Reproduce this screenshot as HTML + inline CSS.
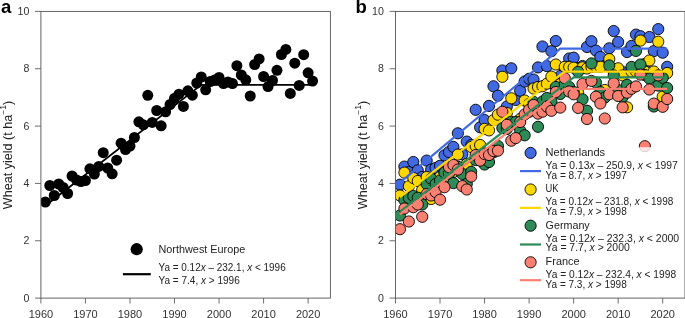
<!DOCTYPE html><html><head><meta charset="utf-8"><style>html,body{margin:0;padding:0;background:#fff;}svg{display:block;will-change:transform}text{font-family:"Liberation Sans", sans-serif}</style></head><body>
<svg width="685" height="318" viewBox="0 0 685 318">
<rect width="685" height="318" fill="#fff"/>
<line x1="35.00" y1="298.10" x2="40.90" y2="298.10" stroke="#5e5e5e" stroke-width="0.9"/>
<line x1="35.00" y1="240.76" x2="40.90" y2="240.76" stroke="#5e5e5e" stroke-width="0.9"/>
<line x1="35.00" y1="183.42" x2="40.90" y2="183.42" stroke="#5e5e5e" stroke-width="0.9"/>
<line x1="35.00" y1="126.08" x2="40.90" y2="126.08" stroke="#5e5e5e" stroke-width="0.9"/>
<line x1="35.00" y1="68.74" x2="40.90" y2="68.74" stroke="#5e5e5e" stroke-width="0.9"/>
<line x1="35.00" y1="11.40" x2="40.90" y2="11.40" stroke="#5e5e5e" stroke-width="0.9"/>
<line x1="40.90" y1="298.10" x2="40.90" y2="303.50" stroke="#5e5e5e" stroke-width="0.9"/>
<line x1="85.44" y1="298.10" x2="85.44" y2="303.50" stroke="#5e5e5e" stroke-width="0.9"/>
<line x1="129.98" y1="298.10" x2="129.98" y2="303.50" stroke="#5e5e5e" stroke-width="0.9"/>
<line x1="174.52" y1="298.10" x2="174.52" y2="303.50" stroke="#5e5e5e" stroke-width="0.9"/>
<line x1="219.05" y1="298.10" x2="219.05" y2="303.50" stroke="#5e5e5e" stroke-width="0.9"/>
<line x1="263.59" y1="298.10" x2="263.59" y2="303.50" stroke="#5e5e5e" stroke-width="0.9"/>
<line x1="308.13" y1="298.10" x2="308.13" y2="303.50" stroke="#5e5e5e" stroke-width="0.9"/>
<text x="29.30" y="301.80" font-size="10.6" text-anchor="end" fill="#333">0</text>
<text x="29.30" y="244.46" font-size="10.6" text-anchor="end" fill="#333">2</text>
<text x="29.30" y="187.12" font-size="10.6" text-anchor="end" fill="#333">4</text>
<text x="29.30" y="129.78" font-size="10.6" text-anchor="end" fill="#333">6</text>
<text x="29.30" y="72.44" font-size="10.6" text-anchor="end" fill="#333">8</text>
<text x="29.30" y="15.10" font-size="10.6" text-anchor="end" fill="#333">10</text>
<text x="40.90" y="318.3" font-size="11" text-anchor="middle" fill="#333">1960</text>
<text x="85.44" y="318.3" font-size="11" text-anchor="middle" fill="#333">1970</text>
<text x="129.98" y="318.3" font-size="11" text-anchor="middle" fill="#333">1980</text>
<text x="174.52" y="318.3" font-size="11" text-anchor="middle" fill="#333">1990</text>
<text x="219.05" y="318.3" font-size="11" text-anchor="middle" fill="#333">2000</text>
<text x="263.59" y="318.3" font-size="11" text-anchor="middle" fill="#333">2010</text>
<text x="308.13" y="318.3" font-size="11" text-anchor="middle" fill="#333">2020</text>
<text id="yla" transform="translate(12.20,209.2) rotate(-90)" font-size="12.4" fill="#222" textLength="108.37" lengthAdjust="spacingAndGlyphs">Wheat yield (t ha<tspan dy="-6.3" font-size="8.4">−1</tspan><tspan dy="6.3">)</tspan></text>
<text x="1" y="13" font-size="18.5" font-weight="bold" fill="#000">a</text>
<defs><clipPath id="ca"><rect x="40.9" y="11.4" width="289.6" height="286.7"/></clipPath></defs><g clip-path="url(#ca)">
<circle cx="45.35" cy="202.00" r="5.5" fill="#000"/>
<circle cx="49.81" cy="185.50" r="5.5" fill="#000"/>
<circle cx="54.26" cy="195.50" r="5.5" fill="#000"/>
<circle cx="58.72" cy="184.00" r="5.5" fill="#000"/>
<circle cx="63.17" cy="187.50" r="5.5" fill="#000"/>
<circle cx="67.62" cy="193.50" r="5.5" fill="#000"/>
<circle cx="72.08" cy="176.00" r="5.5" fill="#000"/>
<circle cx="76.53" cy="180.00" r="5.5" fill="#000"/>
<circle cx="80.98" cy="181.50" r="5.5" fill="#000"/>
<circle cx="85.44" cy="180.50" r="5.5" fill="#000"/>
<circle cx="89.89" cy="168.80" r="5.5" fill="#000"/>
<circle cx="94.35" cy="174.00" r="5.5" fill="#000"/>
<circle cx="98.80" cy="166.40" r="5.5" fill="#000"/>
<circle cx="103.25" cy="152.70" r="5.5" fill="#000"/>
<circle cx="107.71" cy="168.00" r="5.5" fill="#000"/>
<circle cx="112.16" cy="173.80" r="5.5" fill="#000"/>
<circle cx="116.62" cy="160.20" r="5.5" fill="#000"/>
<circle cx="121.07" cy="143.20" r="5.5" fill="#000"/>
<circle cx="125.52" cy="149.50" r="5.5" fill="#000"/>
<circle cx="129.98" cy="146.00" r="5.5" fill="#000"/>
<circle cx="134.43" cy="137.50" r="5.5" fill="#000"/>
<circle cx="138.88" cy="121.80" r="5.5" fill="#000"/>
<circle cx="143.34" cy="124.80" r="5.5" fill="#000"/>
<circle cx="147.79" cy="95.30" r="5.5" fill="#000"/>
<circle cx="152.25" cy="122.40" r="5.5" fill="#000"/>
<circle cx="156.70" cy="110.50" r="5.5" fill="#000"/>
<circle cx="161.15" cy="125.80" r="5.5" fill="#000"/>
<circle cx="165.61" cy="111.80" r="5.5" fill="#000"/>
<circle cx="170.06" cy="104.50" r="5.5" fill="#000"/>
<circle cx="174.52" cy="98.30" r="5.5" fill="#000"/>
<circle cx="178.97" cy="94.20" r="5.5" fill="#000"/>
<circle cx="183.42" cy="106.40" r="5.5" fill="#000"/>
<circle cx="187.88" cy="90.80" r="5.5" fill="#000"/>
<circle cx="192.33" cy="95.20" r="5.5" fill="#000"/>
<circle cx="196.78" cy="83.00" r="5.5" fill="#000"/>
<circle cx="201.24" cy="77.00" r="5.5" fill="#000"/>
<circle cx="205.69" cy="89.80" r="5.5" fill="#000"/>
<circle cx="210.15" cy="81.50" r="5.5" fill="#000"/>
<circle cx="214.60" cy="80.00" r="5.5" fill="#000"/>
<circle cx="219.05" cy="77.50" r="5.5" fill="#000"/>
<circle cx="223.51" cy="83.50" r="5.5" fill="#000"/>
<circle cx="227.96" cy="82.00" r="5.5" fill="#000"/>
<circle cx="232.42" cy="83.50" r="5.5" fill="#000"/>
<circle cx="236.87" cy="65.70" r="5.5" fill="#000"/>
<circle cx="241.32" cy="75.00" r="5.5" fill="#000"/>
<circle cx="245.78" cy="79.80" r="5.5" fill="#000"/>
<circle cx="250.23" cy="96.00" r="5.5" fill="#000"/>
<circle cx="254.68" cy="64.50" r="5.5" fill="#000"/>
<circle cx="259.14" cy="58.90" r="5.5" fill="#000"/>
<circle cx="263.59" cy="76.50" r="5.5" fill="#000"/>
<circle cx="268.05" cy="86.60" r="5.5" fill="#000"/>
<circle cx="272.50" cy="80.50" r="5.5" fill="#000"/>
<circle cx="276.95" cy="70.30" r="5.5" fill="#000"/>
<circle cx="281.41" cy="54.50" r="5.5" fill="#000"/>
<circle cx="285.86" cy="49.40" r="5.5" fill="#000"/>
<circle cx="290.32" cy="93.40" r="5.5" fill="#000"/>
<circle cx="294.77" cy="63.20" r="5.5" fill="#000"/>
<circle cx="299.22" cy="85.40" r="5.5" fill="#000"/>
<circle cx="303.68" cy="54.70" r="5.5" fill="#000"/>
<circle cx="308.13" cy="72.80" r="5.5" fill="#000"/>
<circle cx="312.58" cy="81.10" r="5.5" fill="#000"/>
<polyline points="45.35,205.78 201.24,84.80 312.58,84.80" fill="none" stroke="#000" stroke-width="1.8"/>
</g>
<rect x="40.90" y="11.40" width="289.50" height="286.70" fill="none" stroke="#555" stroke-width="0.9"/>
<circle cx="136.7" cy="249.2" r="6.1" fill="#000"/>
<line x1="122.9" y1="274.2" x2="150.8" y2="274.2" stroke="#000" stroke-width="2.2"/>
<text id="NWE" x="158.5" y="253.3" font-size="10.6" fill="#222" textLength="86.80" lengthAdjust="spacingAndGlyphs">Northwest Europe</text>
<text id="eq1a" x="158.5" y="270.8" font-size="10.6" fill="#222" textLength="127.20" lengthAdjust="spacingAndGlyphs">Ya = 0.12<tspan font-style="italic">x</tspan> – 232.1, <tspan font-style="italic">x</tspan> &lt; 1996</text>
<text id="eq2a" x="158.5" y="283.7" font-size="10.6" fill="#222" textLength="81.30" lengthAdjust="spacingAndGlyphs">Ya = 7.4, <tspan font-style="italic">x</tspan> &gt; 1996</text>
<line x1="389.60" y1="298.10" x2="395.50" y2="298.10" stroke="#5e5e5e" stroke-width="0.9"/>
<line x1="389.60" y1="240.76" x2="395.50" y2="240.76" stroke="#5e5e5e" stroke-width="0.9"/>
<line x1="389.60" y1="183.42" x2="395.50" y2="183.42" stroke="#5e5e5e" stroke-width="0.9"/>
<line x1="389.60" y1="126.08" x2="395.50" y2="126.08" stroke="#5e5e5e" stroke-width="0.9"/>
<line x1="389.60" y1="68.74" x2="395.50" y2="68.74" stroke="#5e5e5e" stroke-width="0.9"/>
<line x1="389.60" y1="11.40" x2="395.50" y2="11.40" stroke="#5e5e5e" stroke-width="0.9"/>
<line x1="395.50" y1="298.10" x2="395.50" y2="303.50" stroke="#5e5e5e" stroke-width="0.9"/>
<line x1="440.03" y1="298.10" x2="440.03" y2="303.50" stroke="#5e5e5e" stroke-width="0.9"/>
<line x1="484.57" y1="298.10" x2="484.57" y2="303.50" stroke="#5e5e5e" stroke-width="0.9"/>
<line x1="529.10" y1="298.10" x2="529.10" y2="303.50" stroke="#5e5e5e" stroke-width="0.9"/>
<line x1="573.64" y1="298.10" x2="573.64" y2="303.50" stroke="#5e5e5e" stroke-width="0.9"/>
<line x1="618.17" y1="298.10" x2="618.17" y2="303.50" stroke="#5e5e5e" stroke-width="0.9"/>
<line x1="662.70" y1="298.10" x2="662.70" y2="303.50" stroke="#5e5e5e" stroke-width="0.9"/>
<text x="383.80" y="301.80" font-size="10.6" text-anchor="end" fill="#333">0</text>
<text x="383.80" y="244.46" font-size="10.6" text-anchor="end" fill="#333">2</text>
<text x="383.80" y="187.12" font-size="10.6" text-anchor="end" fill="#333">4</text>
<text x="383.80" y="129.78" font-size="10.6" text-anchor="end" fill="#333">6</text>
<text x="383.80" y="72.44" font-size="10.6" text-anchor="end" fill="#333">8</text>
<text x="383.80" y="15.10" font-size="10.6" text-anchor="end" fill="#333">10</text>
<text x="395.50" y="318.3" font-size="11" text-anchor="middle" fill="#333">1960</text>
<text x="440.03" y="318.3" font-size="11" text-anchor="middle" fill="#333">1970</text>
<text x="484.57" y="318.3" font-size="11" text-anchor="middle" fill="#333">1980</text>
<text x="529.10" y="318.3" font-size="11" text-anchor="middle" fill="#333">1990</text>
<text x="573.64" y="318.3" font-size="11" text-anchor="middle" fill="#333">2000</text>
<text x="618.17" y="318.3" font-size="11" text-anchor="middle" fill="#333">2010</text>
<text x="662.70" y="318.3" font-size="11" text-anchor="middle" fill="#333">2020</text>
<text id="ylb" transform="translate(367.20,209.2) rotate(-90)" font-size="12.4" fill="#222" textLength="108.37" lengthAdjust="spacingAndGlyphs">Wheat yield (t ha<tspan dy="-6.3" font-size="8.4">−1</tspan><tspan dy="6.3">)</tspan></text>
<text x="355.5" y="12.7" font-size="18.5" font-weight="bold" fill="#000">b</text>
<defs><clipPath id="cb"><rect x="395.5" y="11.4" width="289.5" height="286.7"/></clipPath></defs>
<g clip-path="url(#cb)">
<circle cx="399.95" cy="184.70" r="5.6" fill="#4169e1" stroke="#000" stroke-width="0.9"/>
<circle cx="404.41" cy="166.60" r="5.6" fill="#4169e1" stroke="#000" stroke-width="0.9"/>
<circle cx="408.86" cy="172.00" r="5.6" fill="#4169e1" stroke="#000" stroke-width="0.9"/>
<circle cx="413.31" cy="162.00" r="5.6" fill="#4169e1" stroke="#000" stroke-width="0.9"/>
<circle cx="417.77" cy="170.40" r="5.6" fill="#4169e1" stroke="#000" stroke-width="0.9"/>
<circle cx="422.22" cy="177.00" r="5.6" fill="#4169e1" stroke="#000" stroke-width="0.9"/>
<circle cx="426.67" cy="160.60" r="5.6" fill="#4169e1" stroke="#000" stroke-width="0.9"/>
<circle cx="431.13" cy="169.60" r="5.6" fill="#4169e1" stroke="#000" stroke-width="0.9"/>
<circle cx="435.58" cy="168.00" r="5.6" fill="#4169e1" stroke="#000" stroke-width="0.9"/>
<circle cx="440.03" cy="165.80" r="5.6" fill="#4169e1" stroke="#000" stroke-width="0.9"/>
<circle cx="444.49" cy="155.30" r="5.6" fill="#4169e1" stroke="#000" stroke-width="0.9"/>
<circle cx="448.94" cy="152.00" r="5.6" fill="#4169e1" stroke="#000" stroke-width="0.9"/>
<circle cx="453.39" cy="146.90" r="5.6" fill="#4169e1" stroke="#000" stroke-width="0.9"/>
<circle cx="457.85" cy="133.30" r="5.6" fill="#4169e1" stroke="#000" stroke-width="0.9"/>
<circle cx="462.30" cy="154.40" r="5.6" fill="#4169e1" stroke="#000" stroke-width="0.9"/>
<circle cx="466.75" cy="141.60" r="5.6" fill="#4169e1" stroke="#000" stroke-width="0.9"/>
<circle cx="471.21" cy="145.00" r="5.6" fill="#4169e1" stroke="#000" stroke-width="0.9"/>
<circle cx="475.66" cy="109.80" r="5.6" fill="#4169e1" stroke="#000" stroke-width="0.9"/>
<circle cx="480.11" cy="127.30" r="5.6" fill="#4169e1" stroke="#000" stroke-width="0.9"/>
<circle cx="484.57" cy="120.00" r="5.6" fill="#4169e1" stroke="#000" stroke-width="0.9"/>
<circle cx="489.02" cy="105.90" r="5.6" fill="#4169e1" stroke="#000" stroke-width="0.9"/>
<circle cx="493.47" cy="86.30" r="5.6" fill="#4169e1" stroke="#000" stroke-width="0.9"/>
<circle cx="497.93" cy="95.70" r="5.6" fill="#4169e1" stroke="#000" stroke-width="0.9"/>
<circle cx="502.38" cy="70.50" r="5.6" fill="#4169e1" stroke="#000" stroke-width="0.9"/>
<circle cx="506.83" cy="106.50" r="5.6" fill="#4169e1" stroke="#000" stroke-width="0.9"/>
<circle cx="511.29" cy="68.30" r="5.6" fill="#4169e1" stroke="#000" stroke-width="0.9"/>
<circle cx="515.74" cy="100.00" r="5.6" fill="#4169e1" stroke="#000" stroke-width="0.9"/>
<circle cx="520.19" cy="90.70" r="5.6" fill="#4169e1" stroke="#000" stroke-width="0.9"/>
<circle cx="524.65" cy="81.50" r="5.6" fill="#4169e1" stroke="#000" stroke-width="0.9"/>
<circle cx="529.10" cy="78.80" r="5.6" fill="#4169e1" stroke="#000" stroke-width="0.9"/>
<circle cx="533.55" cy="79.50" r="5.6" fill="#4169e1" stroke="#000" stroke-width="0.9"/>
<circle cx="538.01" cy="67.40" r="5.6" fill="#4169e1" stroke="#000" stroke-width="0.9"/>
<circle cx="542.46" cy="46.50" r="5.6" fill="#4169e1" stroke="#000" stroke-width="0.9"/>
<circle cx="546.92" cy="66.10" r="5.6" fill="#4169e1" stroke="#000" stroke-width="0.9"/>
<circle cx="551.37" cy="51.20" r="5.6" fill="#4169e1" stroke="#000" stroke-width="0.9"/>
<circle cx="555.82" cy="41.00" r="5.6" fill="#4169e1" stroke="#000" stroke-width="0.9"/>
<circle cx="560.28" cy="76.00" r="5.6" fill="#4169e1" stroke="#000" stroke-width="0.9"/>
<circle cx="564.73" cy="67.00" r="5.6" fill="#4169e1" stroke="#000" stroke-width="0.9"/>
<circle cx="569.18" cy="58.50" r="5.6" fill="#4169e1" stroke="#000" stroke-width="0.9"/>
<circle cx="573.64" cy="57.70" r="5.6" fill="#4169e1" stroke="#000" stroke-width="0.9"/>
<circle cx="578.09" cy="68.00" r="5.6" fill="#4169e1" stroke="#000" stroke-width="0.9"/>
<circle cx="582.54" cy="66.00" r="5.6" fill="#4169e1" stroke="#000" stroke-width="0.9"/>
<circle cx="587.00" cy="47.00" r="5.6" fill="#4169e1" stroke="#000" stroke-width="0.9"/>
<circle cx="591.45" cy="41.20" r="5.6" fill="#4169e1" stroke="#000" stroke-width="0.9"/>
<circle cx="595.90" cy="50.60" r="5.6" fill="#4169e1" stroke="#000" stroke-width="0.9"/>
<circle cx="600.36" cy="56.90" r="5.6" fill="#4169e1" stroke="#000" stroke-width="0.9"/>
<circle cx="604.81" cy="66.00" r="5.6" fill="#4169e1" stroke="#000" stroke-width="0.9"/>
<circle cx="609.26" cy="48.30" r="5.6" fill="#4169e1" stroke="#000" stroke-width="0.9"/>
<circle cx="613.72" cy="31.00" r="5.6" fill="#4169e1" stroke="#000" stroke-width="0.9"/>
<circle cx="618.17" cy="42.00" r="5.6" fill="#4169e1" stroke="#000" stroke-width="0.9"/>
<circle cx="622.62" cy="72.00" r="5.6" fill="#4169e1" stroke="#000" stroke-width="0.9"/>
<circle cx="627.08" cy="52.00" r="5.6" fill="#4169e1" stroke="#000" stroke-width="0.9"/>
<circle cx="631.53" cy="45.90" r="5.6" fill="#4169e1" stroke="#000" stroke-width="0.9"/>
<circle cx="635.98" cy="34.60" r="5.6" fill="#4169e1" stroke="#000" stroke-width="0.9"/>
<circle cx="640.44" cy="36.20" r="5.6" fill="#4169e1" stroke="#000" stroke-width="0.9"/>
<circle cx="644.89" cy="64.00" r="5.6" fill="#4169e1" stroke="#000" stroke-width="0.9"/>
<circle cx="649.34" cy="37.00" r="5.6" fill="#4169e1" stroke="#000" stroke-width="0.9"/>
<circle cx="653.80" cy="51.10" r="5.6" fill="#4169e1" stroke="#000" stroke-width="0.9"/>
<circle cx="658.25" cy="29.10" r="5.6" fill="#4169e1" stroke="#000" stroke-width="0.9"/>
<circle cx="662.70" cy="52.70" r="5.6" fill="#4169e1" stroke="#000" stroke-width="0.9"/>
<circle cx="667.16" cy="66.80" r="5.6" fill="#4169e1" stroke="#000" stroke-width="0.9"/>
<circle cx="399.95" cy="195.50" r="5.6" fill="#ffd700" stroke="#000" stroke-width="0.9"/>
<circle cx="404.41" cy="172.60" r="5.6" fill="#ffd700" stroke="#000" stroke-width="0.9"/>
<circle cx="408.86" cy="186.20" r="5.6" fill="#ffd700" stroke="#000" stroke-width="0.9"/>
<circle cx="413.31" cy="178.00" r="5.6" fill="#ffd700" stroke="#000" stroke-width="0.9"/>
<circle cx="417.77" cy="181.00" r="5.6" fill="#ffd700" stroke="#000" stroke-width="0.9"/>
<circle cx="422.22" cy="190.00" r="5.6" fill="#ffd700" stroke="#000" stroke-width="0.9"/>
<circle cx="426.67" cy="177.00" r="5.6" fill="#ffd700" stroke="#000" stroke-width="0.9"/>
<circle cx="431.13" cy="199.00" r="5.6" fill="#ffd700" stroke="#000" stroke-width="0.9"/>
<circle cx="435.58" cy="184.00" r="5.6" fill="#ffd700" stroke="#000" stroke-width="0.9"/>
<circle cx="440.03" cy="177.00" r="5.6" fill="#ffd700" stroke="#000" stroke-width="0.9"/>
<circle cx="444.49" cy="172.00" r="5.6" fill="#ffd700" stroke="#000" stroke-width="0.9"/>
<circle cx="448.94" cy="176.00" r="5.6" fill="#ffd700" stroke="#000" stroke-width="0.9"/>
<circle cx="453.39" cy="172.00" r="5.6" fill="#ffd700" stroke="#000" stroke-width="0.9"/>
<circle cx="457.85" cy="154.60" r="5.6" fill="#ffd700" stroke="#000" stroke-width="0.9"/>
<circle cx="462.30" cy="172.00" r="5.6" fill="#ffd700" stroke="#000" stroke-width="0.9"/>
<circle cx="466.75" cy="164.00" r="5.6" fill="#ffd700" stroke="#000" stroke-width="0.9"/>
<circle cx="471.21" cy="147.00" r="5.6" fill="#ffd700" stroke="#000" stroke-width="0.9"/>
<circle cx="475.66" cy="146.00" r="5.6" fill="#ffd700" stroke="#000" stroke-width="0.9"/>
<circle cx="480.11" cy="145.00" r="5.6" fill="#ffd700" stroke="#000" stroke-width="0.9"/>
<circle cx="484.57" cy="128.90" r="5.6" fill="#ffd700" stroke="#000" stroke-width="0.9"/>
<circle cx="489.02" cy="130.40" r="5.6" fill="#ffd700" stroke="#000" stroke-width="0.9"/>
<circle cx="493.47" cy="120.20" r="5.6" fill="#ffd700" stroke="#000" stroke-width="0.9"/>
<circle cx="497.93" cy="114.70" r="5.6" fill="#ffd700" stroke="#000" stroke-width="0.9"/>
<circle cx="502.38" cy="76.80" r="5.6" fill="#ffd700" stroke="#000" stroke-width="0.9"/>
<circle cx="506.83" cy="113.00" r="5.6" fill="#ffd700" stroke="#000" stroke-width="0.9"/>
<circle cx="511.29" cy="98.30" r="5.6" fill="#ffd700" stroke="#000" stroke-width="0.9"/>
<circle cx="515.74" cy="124.00" r="5.6" fill="#ffd700" stroke="#000" stroke-width="0.9"/>
<circle cx="520.19" cy="119.00" r="5.6" fill="#ffd700" stroke="#000" stroke-width="0.9"/>
<circle cx="524.65" cy="100.50" r="5.6" fill="#ffd700" stroke="#000" stroke-width="0.9"/>
<circle cx="529.10" cy="104.00" r="5.6" fill="#ffd700" stroke="#000" stroke-width="0.9"/>
<circle cx="533.55" cy="88.50" r="5.6" fill="#ffd700" stroke="#000" stroke-width="0.9"/>
<circle cx="538.01" cy="87.00" r="5.6" fill="#ffd700" stroke="#000" stroke-width="0.9"/>
<circle cx="542.46" cy="86.20" r="5.6" fill="#ffd700" stroke="#000" stroke-width="0.9"/>
<circle cx="546.92" cy="83.70" r="5.6" fill="#ffd700" stroke="#000" stroke-width="0.9"/>
<circle cx="551.37" cy="76.60" r="5.6" fill="#ffd700" stroke="#000" stroke-width="0.9"/>
<circle cx="555.82" cy="64.50" r="5.6" fill="#ffd700" stroke="#000" stroke-width="0.9"/>
<circle cx="560.28" cy="84.00" r="5.6" fill="#ffd700" stroke="#000" stroke-width="0.9"/>
<circle cx="564.73" cy="66.80" r="5.6" fill="#ffd700" stroke="#000" stroke-width="0.9"/>
<circle cx="569.18" cy="66.90" r="5.6" fill="#ffd700" stroke="#000" stroke-width="0.9"/>
<circle cx="573.64" cy="67.70" r="5.6" fill="#ffd700" stroke="#000" stroke-width="0.9"/>
<circle cx="578.09" cy="92.60" r="5.6" fill="#ffd700" stroke="#000" stroke-width="0.9"/>
<circle cx="582.54" cy="67.40" r="5.6" fill="#ffd700" stroke="#000" stroke-width="0.9"/>
<circle cx="587.00" cy="68.50" r="5.6" fill="#ffd700" stroke="#000" stroke-width="0.9"/>
<circle cx="591.45" cy="67.00" r="5.6" fill="#ffd700" stroke="#000" stroke-width="0.9"/>
<circle cx="595.90" cy="66.50" r="5.6" fill="#ffd700" stroke="#000" stroke-width="0.9"/>
<circle cx="600.36" cy="66.80" r="5.6" fill="#ffd700" stroke="#000" stroke-width="0.9"/>
<circle cx="604.81" cy="90.00" r="5.6" fill="#ffd700" stroke="#000" stroke-width="0.9"/>
<circle cx="609.26" cy="59.10" r="5.6" fill="#ffd700" stroke="#000" stroke-width="0.9"/>
<circle cx="613.72" cy="71.50" r="5.6" fill="#ffd700" stroke="#000" stroke-width="0.9"/>
<circle cx="618.17" cy="68.30" r="5.6" fill="#ffd700" stroke="#000" stroke-width="0.9"/>
<circle cx="622.62" cy="75.40" r="5.6" fill="#ffd700" stroke="#000" stroke-width="0.9"/>
<circle cx="627.08" cy="107.30" r="5.6" fill="#ffd700" stroke="#000" stroke-width="0.9"/>
<circle cx="631.53" cy="71.50" r="5.6" fill="#ffd700" stroke="#000" stroke-width="0.9"/>
<circle cx="635.98" cy="71.50" r="5.6" fill="#ffd700" stroke="#000" stroke-width="0.9"/>
<circle cx="640.44" cy="40.60" r="5.6" fill="#ffd700" stroke="#000" stroke-width="0.9"/>
<circle cx="644.89" cy="71.50" r="5.6" fill="#ffd700" stroke="#000" stroke-width="0.9"/>
<circle cx="649.34" cy="60.50" r="5.6" fill="#ffd700" stroke="#000" stroke-width="0.9"/>
<circle cx="653.80" cy="71.50" r="5.6" fill="#ffd700" stroke="#000" stroke-width="0.9"/>
<circle cx="658.25" cy="41.70" r="5.6" fill="#ffd700" stroke="#000" stroke-width="0.9"/>
<circle cx="662.70" cy="96.60" r="5.6" fill="#ffd700" stroke="#000" stroke-width="0.9"/>
<circle cx="667.16" cy="73.00" r="5.6" fill="#ffd700" stroke="#000" stroke-width="0.9"/>
<circle cx="399.95" cy="215.50" r="5.6" fill="#2e8b57" stroke="#000" stroke-width="0.9"/>
<circle cx="404.41" cy="200.20" r="5.6" fill="#2e8b57" stroke="#000" stroke-width="0.9"/>
<circle cx="408.86" cy="198.00" r="5.6" fill="#2e8b57" stroke="#000" stroke-width="0.9"/>
<circle cx="413.31" cy="196.00" r="5.6" fill="#2e8b57" stroke="#000" stroke-width="0.9"/>
<circle cx="417.77" cy="197.70" r="5.6" fill="#2e8b57" stroke="#000" stroke-width="0.9"/>
<circle cx="422.22" cy="204.50" r="5.6" fill="#2e8b57" stroke="#000" stroke-width="0.9"/>
<circle cx="426.67" cy="184.00" r="5.6" fill="#2e8b57" stroke="#000" stroke-width="0.9"/>
<circle cx="431.13" cy="178.70" r="5.6" fill="#2e8b57" stroke="#000" stroke-width="0.9"/>
<circle cx="435.58" cy="184.00" r="5.6" fill="#2e8b57" stroke="#000" stroke-width="0.9"/>
<circle cx="440.03" cy="180.50" r="5.6" fill="#2e8b57" stroke="#000" stroke-width="0.9"/>
<circle cx="444.49" cy="172.60" r="5.6" fill="#2e8b57" stroke="#000" stroke-width="0.9"/>
<circle cx="448.94" cy="173.70" r="5.6" fill="#2e8b57" stroke="#000" stroke-width="0.9"/>
<circle cx="453.39" cy="183.10" r="5.6" fill="#2e8b57" stroke="#000" stroke-width="0.9"/>
<circle cx="457.85" cy="166.80" r="5.6" fill="#2e8b57" stroke="#000" stroke-width="0.9"/>
<circle cx="462.30" cy="174.00" r="5.6" fill="#2e8b57" stroke="#000" stroke-width="0.9"/>
<circle cx="466.75" cy="183.90" r="5.6" fill="#2e8b57" stroke="#000" stroke-width="0.9"/>
<circle cx="471.21" cy="171.80" r="5.6" fill="#2e8b57" stroke="#000" stroke-width="0.9"/>
<circle cx="475.66" cy="160.00" r="5.6" fill="#2e8b57" stroke="#000" stroke-width="0.9"/>
<circle cx="480.11" cy="158.00" r="5.6" fill="#2e8b57" stroke="#000" stroke-width="0.9"/>
<circle cx="484.57" cy="164.50" r="5.6" fill="#2e8b57" stroke="#000" stroke-width="0.9"/>
<circle cx="489.02" cy="162.00" r="5.6" fill="#2e8b57" stroke="#000" stroke-width="0.9"/>
<circle cx="493.47" cy="152.40" r="5.6" fill="#2e8b57" stroke="#000" stroke-width="0.9"/>
<circle cx="497.93" cy="146.00" r="5.6" fill="#2e8b57" stroke="#000" stroke-width="0.9"/>
<circle cx="502.38" cy="128.00" r="5.6" fill="#2e8b57" stroke="#000" stroke-width="0.9"/>
<circle cx="506.83" cy="129.00" r="5.6" fill="#2e8b57" stroke="#000" stroke-width="0.9"/>
<circle cx="511.29" cy="121.80" r="5.6" fill="#2e8b57" stroke="#000" stroke-width="0.9"/>
<circle cx="515.74" cy="122.00" r="5.6" fill="#2e8b57" stroke="#000" stroke-width="0.9"/>
<circle cx="520.19" cy="130.60" r="5.6" fill="#2e8b57" stroke="#000" stroke-width="0.9"/>
<circle cx="524.65" cy="135.30" r="5.6" fill="#2e8b57" stroke="#000" stroke-width="0.9"/>
<circle cx="529.10" cy="111.80" r="5.6" fill="#2e8b57" stroke="#000" stroke-width="0.9"/>
<circle cx="533.55" cy="101.90" r="5.6" fill="#2e8b57" stroke="#000" stroke-width="0.9"/>
<circle cx="538.01" cy="126.80" r="5.6" fill="#2e8b57" stroke="#000" stroke-width="0.9"/>
<circle cx="542.46" cy="101.50" r="5.6" fill="#2e8b57" stroke="#000" stroke-width="0.9"/>
<circle cx="546.92" cy="98.00" r="5.6" fill="#2e8b57" stroke="#000" stroke-width="0.9"/>
<circle cx="551.37" cy="101.20" r="5.6" fill="#2e8b57" stroke="#000" stroke-width="0.9"/>
<circle cx="555.82" cy="87.00" r="5.6" fill="#2e8b57" stroke="#000" stroke-width="0.9"/>
<circle cx="560.28" cy="94.00" r="5.6" fill="#2e8b57" stroke="#000" stroke-width="0.9"/>
<circle cx="564.73" cy="84.30" r="5.6" fill="#2e8b57" stroke="#000" stroke-width="0.9"/>
<circle cx="569.18" cy="87.00" r="5.6" fill="#2e8b57" stroke="#000" stroke-width="0.9"/>
<circle cx="573.64" cy="92.00" r="5.6" fill="#2e8b57" stroke="#000" stroke-width="0.9"/>
<circle cx="578.09" cy="71.80" r="5.6" fill="#2e8b57" stroke="#000" stroke-width="0.9"/>
<circle cx="582.54" cy="99.30" r="5.6" fill="#2e8b57" stroke="#000" stroke-width="0.9"/>
<circle cx="587.00" cy="110.70" r="5.6" fill="#2e8b57" stroke="#000" stroke-width="0.9"/>
<circle cx="591.45" cy="63.40" r="5.6" fill="#2e8b57" stroke="#000" stroke-width="0.9"/>
<circle cx="595.90" cy="82.50" r="5.6" fill="#2e8b57" stroke="#000" stroke-width="0.9"/>
<circle cx="600.36" cy="92.00" r="5.6" fill="#2e8b57" stroke="#000" stroke-width="0.9"/>
<circle cx="604.81" cy="97.60" r="5.6" fill="#2e8b57" stroke="#000" stroke-width="0.9"/>
<circle cx="609.26" cy="65.40" r="5.6" fill="#2e8b57" stroke="#000" stroke-width="0.9"/>
<circle cx="613.72" cy="75.40" r="5.6" fill="#2e8b57" stroke="#000" stroke-width="0.9"/>
<circle cx="618.17" cy="90.00" r="5.6" fill="#2e8b57" stroke="#000" stroke-width="0.9"/>
<circle cx="622.62" cy="97.00" r="5.6" fill="#2e8b57" stroke="#000" stroke-width="0.9"/>
<circle cx="627.08" cy="84.80" r="5.6" fill="#2e8b57" stroke="#000" stroke-width="0.9"/>
<circle cx="631.53" cy="66.90" r="5.6" fill="#2e8b57" stroke="#000" stroke-width="0.9"/>
<circle cx="635.98" cy="50.90" r="5.6" fill="#2e8b57" stroke="#000" stroke-width="0.9"/>
<circle cx="640.44" cy="64.50" r="5.6" fill="#2e8b57" stroke="#000" stroke-width="0.9"/>
<circle cx="644.89" cy="75.00" r="5.6" fill="#2e8b57" stroke="#000" stroke-width="0.9"/>
<circle cx="649.34" cy="78.50" r="5.6" fill="#2e8b57" stroke="#000" stroke-width="0.9"/>
<circle cx="653.80" cy="106.50" r="5.6" fill="#2e8b57" stroke="#000" stroke-width="0.9"/>
<circle cx="658.25" cy="85.60" r="5.6" fill="#2e8b57" stroke="#000" stroke-width="0.9"/>
<circle cx="662.70" cy="77.80" r="5.6" fill="#2e8b57" stroke="#000" stroke-width="0.9"/>
<circle cx="667.16" cy="88.00" r="5.6" fill="#2e8b57" stroke="#000" stroke-width="0.9"/>
<circle cx="399.95" cy="229.20" r="5.6" fill="#fa8072" stroke="#000" stroke-width="0.9"/>
<circle cx="404.41" cy="208.50" r="5.6" fill="#fa8072" stroke="#000" stroke-width="0.9"/>
<circle cx="408.86" cy="221.50" r="5.6" fill="#fa8072" stroke="#000" stroke-width="0.9"/>
<circle cx="413.31" cy="207.20" r="5.6" fill="#fa8072" stroke="#000" stroke-width="0.9"/>
<circle cx="417.77" cy="204.50" r="5.6" fill="#fa8072" stroke="#000" stroke-width="0.9"/>
<circle cx="422.22" cy="216.80" r="5.6" fill="#fa8072" stroke="#000" stroke-width="0.9"/>
<circle cx="426.67" cy="194.00" r="5.6" fill="#fa8072" stroke="#000" stroke-width="0.9"/>
<circle cx="431.13" cy="195.50" r="5.6" fill="#fa8072" stroke="#000" stroke-width="0.9"/>
<circle cx="435.58" cy="192.00" r="5.6" fill="#fa8072" stroke="#000" stroke-width="0.9"/>
<circle cx="440.03" cy="199.70" r="5.6" fill="#fa8072" stroke="#000" stroke-width="0.9"/>
<circle cx="444.49" cy="187.20" r="5.6" fill="#fa8072" stroke="#000" stroke-width="0.9"/>
<circle cx="448.94" cy="167.00" r="5.6" fill="#fa8072" stroke="#000" stroke-width="0.9"/>
<circle cx="453.39" cy="165.00" r="5.6" fill="#fa8072" stroke="#000" stroke-width="0.9"/>
<circle cx="457.85" cy="169.60" r="5.6" fill="#fa8072" stroke="#000" stroke-width="0.9"/>
<circle cx="462.30" cy="186.20" r="5.6" fill="#fa8072" stroke="#000" stroke-width="0.9"/>
<circle cx="466.75" cy="189.50" r="5.6" fill="#fa8072" stroke="#000" stroke-width="0.9"/>
<circle cx="471.21" cy="176.50" r="5.6" fill="#fa8072" stroke="#000" stroke-width="0.9"/>
<circle cx="475.66" cy="155.00" r="5.6" fill="#fa8072" stroke="#000" stroke-width="0.9"/>
<circle cx="480.11" cy="160.60" r="5.6" fill="#fa8072" stroke="#000" stroke-width="0.9"/>
<circle cx="484.57" cy="154.00" r="5.6" fill="#fa8072" stroke="#000" stroke-width="0.9"/>
<circle cx="489.02" cy="155.00" r="5.6" fill="#fa8072" stroke="#000" stroke-width="0.9"/>
<circle cx="493.47" cy="151.00" r="5.6" fill="#fa8072" stroke="#000" stroke-width="0.9"/>
<circle cx="497.93" cy="150.70" r="5.6" fill="#fa8072" stroke="#000" stroke-width="0.9"/>
<circle cx="502.38" cy="111.80" r="5.6" fill="#fa8072" stroke="#000" stroke-width="0.9"/>
<circle cx="506.83" cy="124.80" r="5.6" fill="#fa8072" stroke="#000" stroke-width="0.9"/>
<circle cx="511.29" cy="140.70" r="5.6" fill="#fa8072" stroke="#000" stroke-width="0.9"/>
<circle cx="515.74" cy="138.10" r="5.6" fill="#fa8072" stroke="#000" stroke-width="0.9"/>
<circle cx="520.19" cy="122.00" r="5.6" fill="#fa8072" stroke="#000" stroke-width="0.9"/>
<circle cx="524.65" cy="114.50" r="5.6" fill="#fa8072" stroke="#000" stroke-width="0.9"/>
<circle cx="529.10" cy="109.80" r="5.6" fill="#fa8072" stroke="#000" stroke-width="0.9"/>
<circle cx="533.55" cy="105.00" r="5.6" fill="#fa8072" stroke="#000" stroke-width="0.9"/>
<circle cx="538.01" cy="113.60" r="5.6" fill="#fa8072" stroke="#000" stroke-width="0.9"/>
<circle cx="542.46" cy="111.70" r="5.6" fill="#fa8072" stroke="#000" stroke-width="0.9"/>
<circle cx="546.92" cy="106.60" r="5.6" fill="#fa8072" stroke="#000" stroke-width="0.9"/>
<circle cx="551.37" cy="110.80" r="5.6" fill="#fa8072" stroke="#000" stroke-width="0.9"/>
<circle cx="555.82" cy="92.00" r="5.6" fill="#fa8072" stroke="#000" stroke-width="0.9"/>
<circle cx="560.28" cy="107.60" r="5.6" fill="#fa8072" stroke="#000" stroke-width="0.9"/>
<circle cx="564.73" cy="78.10" r="5.6" fill="#fa8072" stroke="#000" stroke-width="0.9"/>
<circle cx="569.18" cy="91.50" r="5.6" fill="#fa8072" stroke="#000" stroke-width="0.9"/>
<circle cx="573.64" cy="94.30" r="5.6" fill="#fa8072" stroke="#000" stroke-width="0.9"/>
<circle cx="578.09" cy="107.90" r="5.6" fill="#fa8072" stroke="#000" stroke-width="0.9"/>
<circle cx="582.54" cy="84.00" r="5.6" fill="#fa8072" stroke="#000" stroke-width="0.9"/>
<circle cx="587.00" cy="119.00" r="5.6" fill="#fa8072" stroke="#000" stroke-width="0.9"/>
<circle cx="591.45" cy="80.90" r="5.6" fill="#fa8072" stroke="#000" stroke-width="0.9"/>
<circle cx="595.90" cy="96.70" r="5.6" fill="#fa8072" stroke="#000" stroke-width="0.9"/>
<circle cx="600.36" cy="103.50" r="5.6" fill="#fa8072" stroke="#000" stroke-width="0.9"/>
<circle cx="604.81" cy="118.50" r="5.6" fill="#fa8072" stroke="#000" stroke-width="0.9"/>
<circle cx="609.26" cy="94.30" r="5.6" fill="#fa8072" stroke="#000" stroke-width="0.9"/>
<circle cx="613.72" cy="83.30" r="5.6" fill="#fa8072" stroke="#000" stroke-width="0.9"/>
<circle cx="618.17" cy="96.00" r="5.6" fill="#fa8072" stroke="#000" stroke-width="0.9"/>
<circle cx="622.62" cy="107.30" r="5.6" fill="#fa8072" stroke="#000" stroke-width="0.9"/>
<circle cx="627.08" cy="92.70" r="5.6" fill="#fa8072" stroke="#000" stroke-width="0.9"/>
<circle cx="631.53" cy="88.80" r="5.6" fill="#fa8072" stroke="#000" stroke-width="0.9"/>
<circle cx="635.98" cy="86.40" r="5.6" fill="#fa8072" stroke="#000" stroke-width="0.9"/>
<circle cx="640.44" cy="74.60" r="5.6" fill="#fa8072" stroke="#000" stroke-width="0.9"/>
<circle cx="644.89" cy="146.20" r="5.6" fill="#fa8072" stroke="#000" stroke-width="0.9"/>
<circle cx="649.34" cy="89.50" r="5.6" fill="#fa8072" stroke="#000" stroke-width="0.9"/>
<circle cx="653.80" cy="103.60" r="5.6" fill="#fa8072" stroke="#000" stroke-width="0.9"/>
<circle cx="658.25" cy="75.40" r="5.6" fill="#fa8072" stroke="#000" stroke-width="0.9"/>
<circle cx="662.70" cy="106.80" r="5.6" fill="#fa8072" stroke="#000" stroke-width="0.9"/>
<circle cx="667.16" cy="99.00" r="5.6" fill="#fa8072" stroke="#000" stroke-width="0.9"/>
<polyline points="399.95,182.56 560.28,48.67 667.16,48.67" fill="none" stroke="#4169e1" stroke-width="2.2"/>
<polyline points="399.95,197.18 564.73,71.61 667.16,71.61" fill="none" stroke="#ffd700" stroke-width="2.2"/>
<polyline points="399.95,211.52 573.64,77.34 667.16,77.34" fill="none" stroke="#2e8b57" stroke-width="2.2"/>
<polyline points="399.95,214.38 564.73,88.81 667.16,88.81" fill="none" stroke="#fa8072" stroke-width="2.2"/>
</g>
<rect x="514" y="147.2" width="168" height="148" fill="#fff" fill-opacity="0.8"/>
<rect x="395.50" y="11.40" width="289.47" height="286.70" fill="none" stroke="#555" stroke-width="0.9"/>
<circle cx="530.6" cy="152.9" r="5.6" fill="#4169e1" stroke="#000" stroke-width="0.9"/>
<line x1="520" y1="171.1" x2="541" y2="171.1" stroke="#4169e1" stroke-width="2.2"/>
<text id="NL" x="545.6" y="156.1" font-size="10.3" fill="#222" textLength="59.53" lengthAdjust="spacingAndGlyphs">Netherlands</text>
<text id="NLe1" x="545.6" y="169.1" font-size="10.3" fill="#222" textLength="132.12" lengthAdjust="spacingAndGlyphs">Ya = 0.13<tspan font-style="italic">x</tspan> – 250.9, <tspan font-style="italic">x</tspan> &lt; 1997</text>
<text id="NLe2" x="545.6" y="178.8" font-size="10.3" fill="#222" textLength="81.12" lengthAdjust="spacingAndGlyphs">Ya = 8.7, <tspan font-style="italic">x</tspan> &gt; 1997</text>
<circle cx="530.6" cy="189.5" r="5.6" fill="#ffd700" stroke="#000" stroke-width="0.9"/>
<line x1="520" y1="207.9" x2="541" y2="207.9" stroke="#ffd700" stroke-width="2.2"/>
<text id="UK" x="545.6" y="192.3" font-size="10.3" fill="#222" textLength="13.01" lengthAdjust="spacingAndGlyphs">UK</text>
<text id="UKe1" x="545.6" y="205.0" font-size="10.3" fill="#222" textLength="127.72" lengthAdjust="spacingAndGlyphs">Ya = 0.12<tspan font-style="italic">x</tspan> – 231.8, <tspan font-style="italic">x</tspan> &lt; 1998</text>
<text id="UKe2" x="545.6" y="215.0" font-size="10.3" fill="#222" textLength="81.12" lengthAdjust="spacingAndGlyphs">Ya = 7.9, <tspan font-style="italic">x</tspan> &gt; 1998</text>
<circle cx="530.6" cy="225.7" r="5.6" fill="#2e8b57" stroke="#000" stroke-width="0.9"/>
<line x1="520" y1="244.5" x2="541" y2="244.5" stroke="#2e8b57" stroke-width="2.2"/>
<text id="DE" x="545.6" y="229.2" font-size="10.3" fill="#222" textLength="44.16" lengthAdjust="spacingAndGlyphs">Germany</text>
<text id="DEe1" x="545.6" y="242.0" font-size="10.3" fill="#222" textLength="133.52" lengthAdjust="spacingAndGlyphs">Ya = 0.12<tspan font-style="italic">x</tspan> – 232.3, <tspan font-style="italic">x</tspan> &lt; 2000</text>
<text id="DEe2" x="545.6" y="251.3" font-size="10.3" fill="#222" textLength="84.12" lengthAdjust="spacingAndGlyphs">Ya = 7.7, <tspan font-style="italic">x</tspan> &gt; 2000</text>
<circle cx="530.6" cy="262.3" r="5.6" fill="#fa8072" stroke="#000" stroke-width="0.9"/>
<line x1="520" y1="280.2" x2="541" y2="280.2" stroke="#fa8072" stroke-width="2.2"/>
<text id="FR" x="545.6" y="265.2" font-size="10.3" fill="#222" textLength="34.06" lengthAdjust="spacingAndGlyphs">France</text>
<text id="FRe1" x="545.6" y="277.9" font-size="10.3" fill="#222" textLength="130.52" lengthAdjust="spacingAndGlyphs">Ya = 0.12<tspan font-style="italic">x</tspan> – 232.4, <tspan font-style="italic">x</tspan> &lt; 1998</text>
<text id="FRe2" x="545.6" y="287.8" font-size="10.3" fill="#222" textLength="81.12" lengthAdjust="spacingAndGlyphs">Ya = 7.3, <tspan font-style="italic">x</tspan> &gt; 1998</text>
</svg></body></html>
